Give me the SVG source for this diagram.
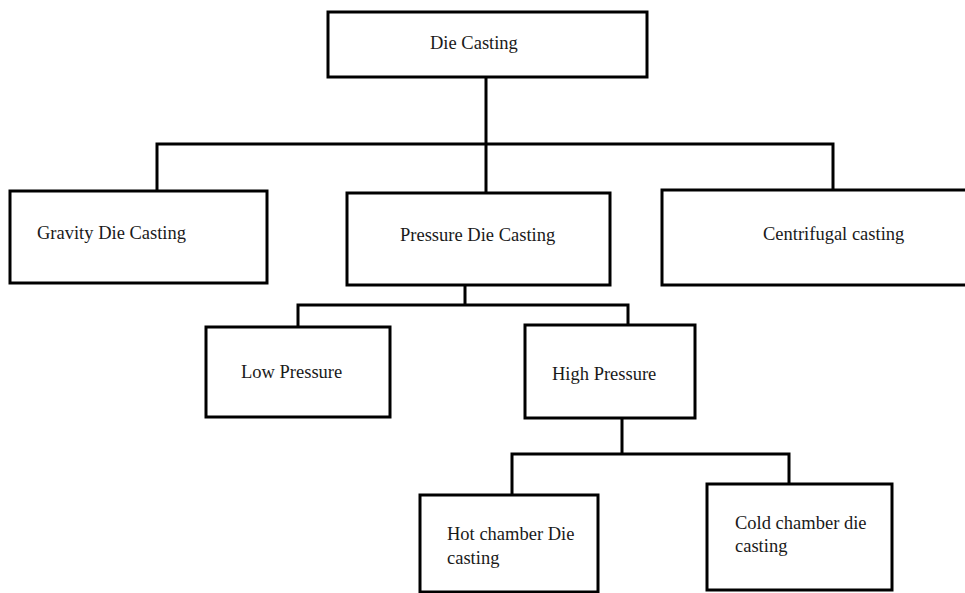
<svg xmlns="http://www.w3.org/2000/svg" width="965" height="593" viewBox="0 0 965 593">
<style>
.box{fill:#fff;stroke:#000;stroke-width:3}
.con{fill:none;stroke:#000;stroke-width:3}
text{font-family:"Liberation Serif","Times New Roman",serif;font-size:18.5px;fill:#1a1a1a}
</style>
<rect width="965" height="593" fill="#fff"/>
<g id="connectors">
<path class="con" d="M486 77V144M157 191V144H833V190M486 144V193"/>
<path class="con" d="M465 285V305M298 327V305H628V325"/>
<path class="con" d="M622 418V454M512 495V454H789V484"/>
</g>
<g id="die-casting"><rect class="box" x="328" y="12" width="319" height="65"/><text x="430" y="49">Die Casting</text></g>
<g id="gravity"><rect class="box" x="10" y="191" width="257" height="92"/><text x="37" y="239">Gravity Die Casting</text></g>
<g id="pressure"><rect class="box" x="347" y="193" width="263" height="92"/><text x="400" y="241">Pressure Die Casting</text></g>
<g id="centrifugal"><rect class="box" x="662" y="190" width="320" height="95"/><text x="763" y="240">Centrifugal casting</text></g>
<g id="low"><rect class="box" x="206" y="327" width="184" height="90"/><text x="241" y="378">Low Pressure</text></g>
<g id="high"><rect class="box" x="525" y="325" width="170" height="93"/><text x="552" y="380">High Pressure</text></g>
<g id="hot"><rect class="box" x="420" y="495" width="178" height="97"/><text x="447" y="540">Hot chamber Die</text><text x="447" y="564">casting</text></g>
<g id="cold"><rect class="box" x="707" y="484" width="185" height="106"/><text x="735" y="529">Cold chamber die</text><text x="735" y="552">casting</text></g>
</svg>
